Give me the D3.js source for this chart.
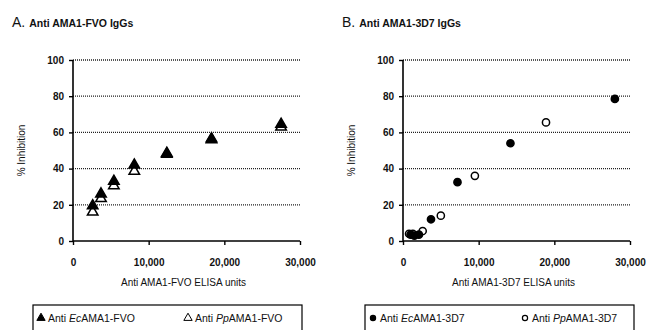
<!DOCTYPE html>
<html>
<head>
<meta charset="utf-8">
<script src="https://cdn.jsdelivr.net/npm/d3@7"></script>
<style>
body{margin:0;background:#fff;}
svg text{font-family:"Liberation Sans",Arial,sans-serif;fill:#111;}
</style>
</head>
<body>
<div id="grafica"></div>
<script>
// Datos
var ticksX=[0,10000,20000,30000]
var ticksY=[0,20,40,60,80,100]

// Panel A: anti AMA1-FVO (x = unidades ELISA, y = % inhibicion)
var fvoEc=[[2600,19.5],[3700,26],[5400,33],[8100,42],[12400,48.5],[18300,56.5],[27500,64.5]]
var fvoPp=[[2600,16],[3700,23.5],[5400,30.5],[8100,38.5],[12400,48],[18300,56],[27500,63]]

// Panel B: anti AMA1-3D7
var d7Ec=[[1000,3.5],[1500,3],[2100,3.5],[3700,12],[7200,32.5],[14200,54],[28000,78.5]]
var d7Pp=[[800,4],[1300,4],[2600,5.5],[5000,14],[9500,36],[18900,65.5]]

var paneles=[
	{letra:"A.",titulo:"Anti AMA1-FVO IgGs",ejeX:"Anti AMA1-FVO ELISA units",x0:0,
	 series:[{d:fvoPp,forma:"tri",relleno:false},{d:fvoEc,forma:"tri",relleno:true}],
	 leyenda:[{forma:"tri",relleno:true,pre:"Anti ",it:"Ec",post:"AMA1-FVO"},{forma:"tri",relleno:false,pre:"Anti ",it:"Pp",post:"AMA1-FVO"}]},
	{letra:"B.",titulo:"Anti AMA1-3D7 IgGs",ejeX:"Anti AMA1-3D7 ELISA units",x0:330,
	 series:[{d:d7Pp,forma:"circ",relleno:false},{d:d7Ec,forma:"circ",relleno:true}],
	 leyenda:[{forma:"circ",relleno:true,pre:"Anti ",it:"Ec",post:"AMA1-3D7"},{forma:"circ",relleno:false,pre:"Anti ",it:"Pp",post:"AMA1-3D7"}]}
]

var svg=d3.select("#grafica").append("svg")
	.attr("width",651).attr("height",330)

var margin={top:60,left:73}
var ancho=227, alto=181

paneles.forEach(function(p){
	var g=svg.append("g").attr("transform","translate("+p.x0+",0)")

	var t=g.append("text").attr("x",12).attr("y",27)
	t.append("tspan").text(p.letra).style("font-size","14px")
	t.append("tspan").attr("dx",4).text(p.titulo).style("font-size","10.5px").style("font-weight","bold")

	var plot=g.append("g").attr("transform","translate("+margin.left+","+margin.top+")")

	var escalaX=d3.scaleLinear().domain([0,30000]).range([0,ancho])
	var escalaY=d3.scaleLinear().domain([0,100]).range([alto,0])

	//lineas punteadas
	plot.selectAll(".grid").data(ticksY.filter(d=>d>0)).enter().append("line")
		.attr("x1",0).attr("x2",ancho)
		.attr("y1",d=>escalaY(d)).attr("y2",d=>escalaY(d))
		.style("stroke","#222").style("stroke-width","1.3px").style("stroke-dasharray","1,1")

	var ejeX=plot.append("g").attr("transform","translate(0,"+alto+")")
		.call(d3.axisBottom(escalaX).tickValues(ticksX).tickSize(4).tickPadding(14).tickFormat(d3.format(",")))
	var ejeY=plot.append("g")
		.call(d3.axisLeft(escalaY).tickValues(ticksY).tickSize(4).tickPadding(5))
	;[ejeX,ejeY].forEach(function(e){
		e.select(".domain").style("stroke","#000").style("stroke-width","1.6px")
		e.selectAll(".tick line").style("stroke","#000").style("stroke-width","1.4px")
		e.selectAll("text").style("font-size","10px").style("font-weight","bold")
			.style("font-family","'Liberation Sans',Arial,sans-serif").style("fill","#111")
	})
	ejeX.select(".domain").attr("d","M0,0H"+ancho)
	ejeY.select(".domain").attr("d","M0,"+alto+"V0")

	plot.append("text").attr("transform","translate(-48,"+(alto/2)+") rotate(-90)")
		.attr("text-anchor","middle").style("font-size","10px").text("% Inhibition")
	plot.append("text").attr("x",ancho/2-3).attr("y",alto+45)
		.attr("text-anchor","middle").style("font-size","10px").text(p.ejeX)

	var tri=d3.symbol().type(d3.symbolTriangle).size(48)
	p.series.forEach(function(s){
		var m=plot.selectAll(null).data(s.d).enter()
		if(s.forma=="tri"){
			m.append("path").attr("d",tri)
				.attr("transform",d=>"translate("+escalaX(d[0])+","+escalaY(d[1])+")")
				.style("fill",s.relleno?"#000":"#fff").style("stroke","#000").style("stroke-width","1.5px")
		}else{
			m.append("circle").attr("cx",d=>escalaX(d[0])).attr("cy",d=>escalaY(d[1])).attr("r",3.6)
				.style("fill",s.relleno?"#000":"#fff").style("stroke","#000").style("stroke-width","1.5px")
		}
	})

	//leyenda
	var lx=p.x0==0?33:35
	g.append("rect").attr("x",lx).attr("y",305).attr("width",269).attr("height",30)
		.style("fill","none").style("stroke","#000").style("stroke-width","1.2px")
	p.leyenda.forEach(function(l,i){
		var cx=lx+8+i*(p.x0==0?147:152)
		if(l.forma=="tri"){
			g.append("path").attr("d",d3.symbol().type(d3.symbolTriangle).size(30))
				.attr("transform","translate("+cx+",318)")
				.style("fill",l.relleno?"#000":"#fff").style("stroke","#000").style("stroke-width","1px")
		}else{
			g.append("circle").attr("cx",cx).attr("cy",318).attr("r",2.6)
				.style("fill",l.relleno?"#000":"#fff").style("stroke","#000").style("stroke-width","1.2px")
		}
		var tx=g.append("text").attr("x",cx+7).attr("y",322).style("font-size","10.5px")
		tx.append("tspan").text(l.pre)
		tx.append("tspan").text(l.it).style("font-style","italic")
		tx.append("tspan").text(l.post)
	})
})
</script>
</body>
</html>
